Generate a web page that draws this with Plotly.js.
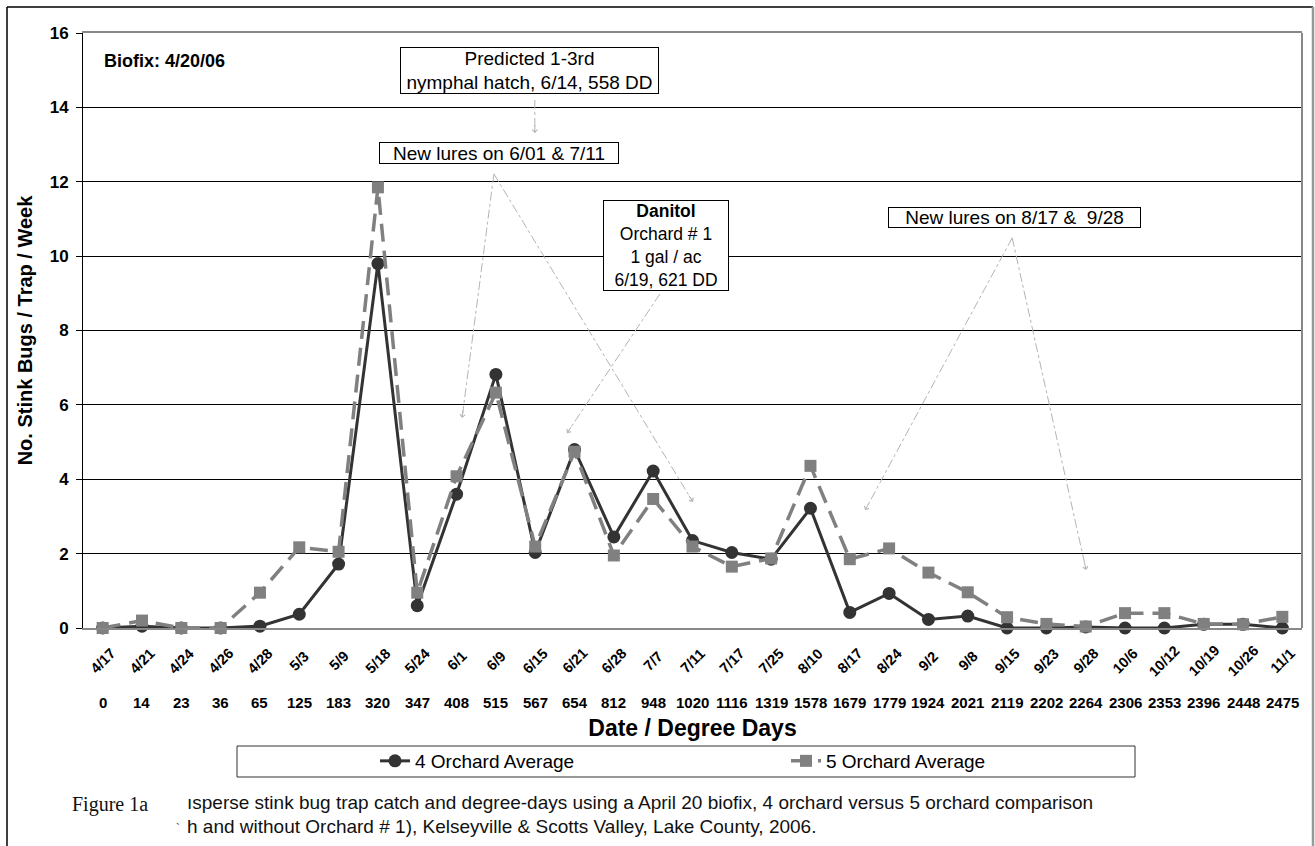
<!DOCTYPE html>
<html>
<head>
<meta charset="utf-8">
<script src="https://cdn.plot.ly/plotly-3.0.1.min.js"></script>
<style>html,body{margin:0;padding:0;background:#fff;}#chart{width:1315px;height:846px;}</style>
</head>
<body>
<div id="chart"></div>
<script>
// ---- data ----
const dates = ['4/17','4/21','4/24','4/26','4/28','5/3','5/9','5/18','5/24','6/1','6/9','6/15','6/21','6/28','7/7','7/11','7/17','7/25','8/10','8/17','8/24','9/2','9/8','9/15','9/23','9/28','10/6','10/12','10/19','10/26','11/1'];
const degreeDays = [0,14,23,36,65,125,183,320,347,408,515,567,654,812,948,1020,1116,1319,1578,1679,1779,1924,2021,2119,2202,2264,2306,2353,2396,2448,2475];
const avg4 = [0,0.05,0,0,0.05,0.37,1.72,9.8,0.6,3.6,6.82,2.03,4.8,2.45,4.22,2.35,2.03,1.85,3.22,0.42,0.93,0.23,0.32,0,0,0.03,0,0,0.1,0.1,0];
const avg5 = [0,0.2,0,0,0.95,2.17,2.05,11.85,0.95,4.08,6.33,2.19,4.74,1.95,3.47,2.19,1.65,1.87,4.36,1.85,2.14,1.49,0.96,0.29,0.11,0.04,0.4,0.4,0.11,0.1,0.3];
const seriesNames = ['4 Orchard Average','5 Orchard Average'];
const yTitle = 'No. Stink Bugs / Trap / Week';
const xTitle = 'Date / Degree Days';
const captionLines = ['\u0131sperse stink bug trap catch and degree-days using a April 20 biofix, 4 orchard versus 5 orchard comparison',
                      'h and without Orchard # 1), Kelseyville & Scotts Valley, Lake County, 2006.'];

// ---- layout helpers ----
const W = 1315, H = 846;
const M = {l:83, r:13, t:33, b:218};
const PW = W - M.l - M.r, PH = H - M.t - M.b;
const px2paperX = px => (px - M.l) / PW;
const py2paperY = py => (H - M.b - py) / PH;
const FONT = 'Liberation Sans, Arial, sans-serif';

const traces = [
  {x: dates, y: avg4, name: seriesNames[0], type: 'scatter', mode: 'lines+markers', cliponaxis: false,
   line: {color: '#333333', width: 3}, marker: {symbol: 'circle', size: 13, color: '#333333'}},
  {x: dates, y: avg5, name: seriesNames[1], type: 'scatter', mode: 'lines+markers', cliponaxis: false,
   line: {color: '#808080', width: 3.5, dash: '18px,9px'}, marker: {symbol: 'square', size: 12, color: '#808080'}}
];

const annotations = [];
dates.forEach((d, i) => {
  annotations.push({x: d, y: 0, xref: 'x', yref: 'paper', yshift: -33, text: '<b>' + d + '</b>', textangle: -45,
    showarrow: false, xanchor: 'center', yanchor: 'middle', font: {family: FONT, size: 14.5, color: '#000'}});
  annotations.push({x: d, y: 0, xref: 'x', yref: 'paper', yshift: -74, text: '<b>' + degreeDays[i] + '</b>',
    showarrow: false, xanchor: 'center', yanchor: 'middle', font: {family: FONT, size: 15, color: '#000'}});
});

// text boxes (positions in axis units: category index, y value)
const boxes = [
  {x: 10.85, y: 14.99, w: 257, h: 45, text: 'Predicted 1-3rd<br>nymphal hatch, 6/14, 558 DD', size: 19},
  {x: 10.08, y: 12.77, w: 238, h: 20, text: 'New lures on 6/01 & 7/11', size: 19},
  {x: 14.33, y: 10.29, w: 124, h: 89, text: '<b>Danitol</b><br>Orchard # 1<br>1 gal / ac<br>6/19, 621 DD', size: 17.5},
  {x: 23.19, y: 11.04, w: 251, h: 19, text: 'New lures on 8/17 &\u00a0 9/28', size: 19}
];
boxes.forEach(b => annotations.push({x: b.x, y: b.y, xref: 'x', yref: 'y', text: b.text, showarrow: false,
  width: b.w, height: b.h, bordercolor: '#000', borderwidth: 1, borderpad: 0, bgcolor: '#fff',
  xanchor: 'center', yanchor: 'middle', align: 'center', font: {family: FONT, size: b.size, color: '#000'}}));

annotations.push({x: -0.02, y: 15.25, xref: 'x', yref: 'y', text: '<b>Biofix: 4/20/06</b>', showarrow: false,
  xanchor: 'left', yanchor: 'middle', font: {family: FONT, size: 18, color: '#000'}});

// pointer arrows: tail -> tip in axis units
const arrows = [
  {tail: [10.99, 14.2], tip: [10.99, 13.31]},
  {tail: [9.95, 12.21], tip: [9.14, 5.65]},
  {tail: [9.95, 12.21], tip: [15.01, 3.39]},
  {tail: [14.17, 8.98], tip: [11.81, 5.24]},
  {tail: [23.13, 10.49], tip: [19.39, 3.17]},
  {tail: [23.13, 10.49], tip: [25.01, 1.56]}
];
const shapes = [];
const sx = PW / dates.length, sy = PH / 16;
arrows.forEach(a => {
  shapes.push({type: 'line', xref: 'x', yref: 'y', x0: a.tail[0], y0: a.tail[1], x1: a.tip[0], y1: a.tip[1],
    line: {color: '#b4b4b4', width: 1, dash: 'dashdot'}});
  const dx = (a.tail[0] - a.tip[0]) * sx, dy = -(a.tail[1] - a.tip[1]) * sy;
  const L = Math.hypot(dx, dy);
  annotations.push({x: a.tip[0], y: a.tip[1], xref: 'x', yref: 'y', text: '', showarrow: true,
    ax: dx / L * 9, ay: dy / L * 9, arrowhead: 4, arrowsize: 1, arrowwidth: 1, arrowcolor: '#b4b4b4'});
});

// plot right border, outer chart frame, legend frame
shapes.push({type: 'line', xref: 'paper', yref: 'paper', x0: 1, x1: 1, y0: 0, y1: 1, line: {color: '#888', width: 2}});
const fx0 = px2paperX(7), fx1 = px2paperX(1313), fy1 = py2paperY(7), fy0 = py2paperY(900);
shapes.push({type: 'line', xref: 'paper', yref: 'paper', x0: fx0, x1: fx0, y0: fy0, y1: fy1, line: {color: '#000', width: 1.5}});
shapes.push({type: 'line', xref: 'paper', yref: 'paper', x0: fx0, x1: fx1, y0: fy1, y1: fy1, line: {color: '#000', width: 1.5}});
shapes.push({type: 'line', xref: 'paper', yref: 'paper', x0: fx1, x1: fx1, y0: fy0, y1: fy1, line: {color: '#999', width: 2.5}});
shapes.push({type: 'rect', xref: 'paper', yref: 'paper', x0: px2paperX(237), x1: px2paperX(1135), y0: py2paperY(777), y1: py2paperY(746),
  line: {color: '#333', width: 1}, fillcolor: 'rgba(0,0,0,0)'});

// caption
annotations.push({x: px2paperX(70), y: py2paperY(804), xref: 'paper', yref: 'paper', text: 'Figure 1a', showarrow: false,
  xanchor: 'left', yanchor: 'middle', font: {family: 'Liberation Serif, Times New Roman, serif', size: 20, color: '#111'}});
annotations.push({x: px2paperX(185), y: py2paperY(802), xref: 'paper', yref: 'paper', text: captionLines[0], showarrow: false,
  xanchor: 'left', yanchor: 'middle', font: {family: FONT, size: 19, color: '#111'}});
annotations.push({x: px2paperX(185), y: py2paperY(826), xref: 'paper', yref: 'paper', text: captionLines[1], showarrow: false,
  xanchor: 'left', yanchor: 'middle', font: {family: FONT, size: 19, color: '#111'}});
annotations.push({x: px2paperX(178), y: py2paperY(829), xref: 'paper', yref: 'paper', text: '`', showarrow: false,
  xanchor: 'center', yanchor: 'middle', font: {family: FONT, size: 12, color: '#444'}});

const layout = {
  width: W, height: H, margin: M, paper_bgcolor: '#fff', plot_bgcolor: '#fff',
  font: {family: FONT, color: '#000'},
  showlegend: true,
  legend: {orientation: 'h', x: px2paperX(375), xanchor: 'left', y: py2paperY(761), yanchor: 'middle',
    font: {family: FONT, size: 19, color: '#000'}, bgcolor: 'rgba(0,0,0,0)', borderwidth: 0,
    entrywidth: 366, entrywidthmode: 'pixels', itemwidth: 30},
  xaxis: {type: 'category', categoryorder: 'array', categoryarray: dates, range: [-0.5, dates.length - 0.5],
    showgrid: false, zeroline: false, showline: true, linecolor: '#888', linewidth: 2, mirror: true,
    ticks: '', showticklabels: false, fixedrange: true,
    title: {text: '<b>' + xTitle + '</b>', font: {family: FONT, size: 23, color: '#000'}, standoff: 91}},
  yaxis: {range: [0, 16], dtick: 2, tick0: 0, showgrid: true, gridcolor: '#000', gridwidth: 1, zeroline: false,
    showline: true, linecolor: '#000', linewidth: 1, ticks: 'outside', ticklen: 6, tickcolor: '#000',
    tickfont: {family: FONT, size: 17, color: '#000', weight: 'bold'}, ticklabelstandoff: 4, fixedrange: true,
    title: {text: '<b>' + yTitle + '</b>', font: {family: FONT, size: 20, color: '#000'}, standoff: 11}},
  annotations: annotations,
  shapes: shapes
};

Plotly.newPlot('chart', traces, layout, {displayModeBar: false, staticPlot: true});
</script>
</body>
</html>
